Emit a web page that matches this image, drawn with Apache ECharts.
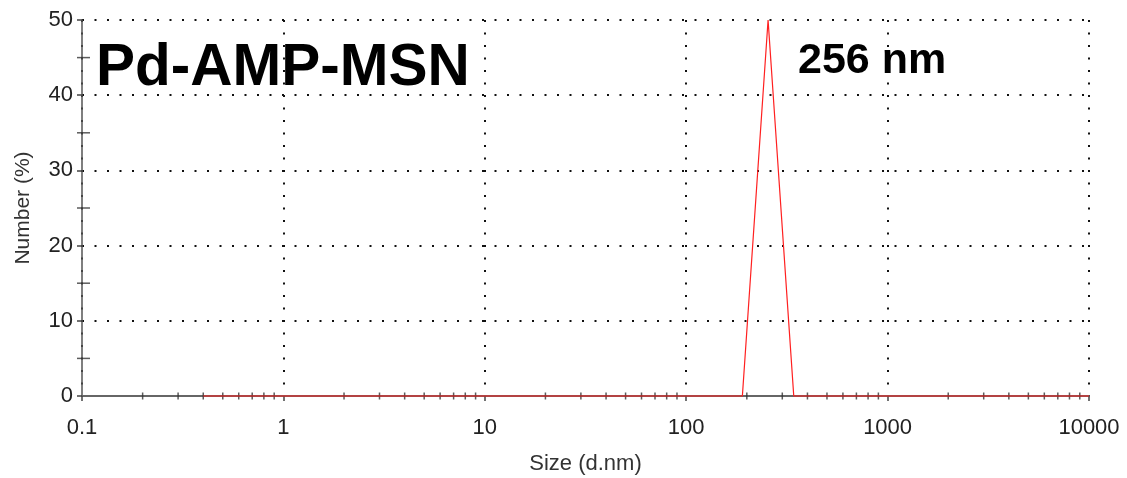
<!DOCTYPE html>
<html>
<head>
<meta charset="utf-8">
<script src="https://cdn.jsdelivr.net/npm/echarts@6/dist/echarts.min.js"></script>
<style>
html,body{margin:0;padding:0;background:#fff;}
#chart{width:1127px;height:478px;}
</style>
</head>
<body>
<div id="chart"></div>
<script>
// Data (size in d.nm, number %)
const sizes   = [0.4, 190.1, 255.0, 342.0, 10000];
const numbers = [0,   0,     50,    0,     0];
// Axis tick labels / minor tick positions
const xMin = 0.1, xMax = 10000;
const yMin = 0, yMax = 50, yStep = 10;
const xMinorTicks = [];
[0.1, 1, 10, 100, 1000].forEach(function (d) { for (let k = 2; k <= 9; k++) xMinorTicks.push(+(d * k).toPrecision(3)); });
const yMinorTicks = [5, 15, 25, 35, 45];
const sampleLabel = 'Pd-AMP-MSN';
const peakLabel = '256 nm';

const font = '"Liberation Sans", Arial, Helvetica, sans-serif';
const chart = echarts.init(document.getElementById('chart'), null, {renderer: 'canvas'});
const dotted = {color: '#111', width: 2, type: [2, 10.5]};

chart.setOption({
  animation: false,
  backgroundColor: '#fff',
  grid: {left: 82, right: 38, top: 20, bottom: 82, containLabel: false, outerBoundsMode: 'none'},
  title: [
    {text: sampleLabel, left: 96, top: 40, padding: 0,
     textStyle: {fontFamily: font, fontWeight: 'bold', fontSize: 58.5, lineHeight: 58, color: '#000'}},
    {text: peakLabel, left: 798, top: 40, padding: 0,
     textStyle: {fontFamily: font, fontWeight: 'bold', fontSize: 43, lineHeight: 43, color: '#000'}}
  ],
  xAxis: {
    type: 'log', logBase: 10, min: xMin, max: xMax,
    name: 'Size (d.nm)', nameLocation: 'middle', nameGap: 57,
    nameTextStyle: {fontFamily: font, fontSize: 22, color: '#333'},
    axisLine: {show: true, lineStyle: {color: '#666', width: 2}},
    axisTick: {show: true, length: 5, lineStyle: {color: '#444', width: 1.5}},
    axisLabel: {fontFamily: font, fontSize: 22, color: '#222', margin: 21,
      formatter: function (v) { return String(v); }},
    splitLine: {show: true, lineStyle: dotted}
  },
  yAxis: {
    type: 'value', min: yMin, max: yMax, interval: yStep,
    name: 'Number (%)', nameLocation: 'middle', nameGap: 48,
    nameTextStyle: {fontFamily: font, fontSize: 21, color: '#333'},
    axisLine: {show: true, lineStyle: {color: '#555', width: 1.5}},
    axisTick: {show: true, length: 5, lineStyle: {color: '#444', width: 1.5}},
    axisLabel: {fontFamily: font, fontSize: 22, color: '#222', margin: 9},
    splitLine: {show: true, lineStyle: dotted}
  },
  series: [
    {
      type: 'scatter', silent: true, clip: false, z: 3,
      symbol: 'rect', symbolSize: [1.5, 7],
      itemStyle: {color: '#333'},
      data: xMinorTicks.map(function (v) { return [v, 0]; })
    },
    {
      type: 'scatter', silent: true, clip: false, z: 3,
      symbol: 'rect', symbolSize: [13, 1.5], symbolOffset: [1.5, 0],
      itemStyle: {color: '#333'},
      data: yMinorTicks.map(function (v) { return [xMin, v]; })
    },
    {
      type: 'line', z: 4, showSymbol: false, silent: true, clip: false,
      lineStyle: {color: '#ff2020', width: 1.2},
      data: sizes.map(function (s, i) { return [s, numbers[i]]; })
    }
  ]
});
</script>
</body>
</html>
